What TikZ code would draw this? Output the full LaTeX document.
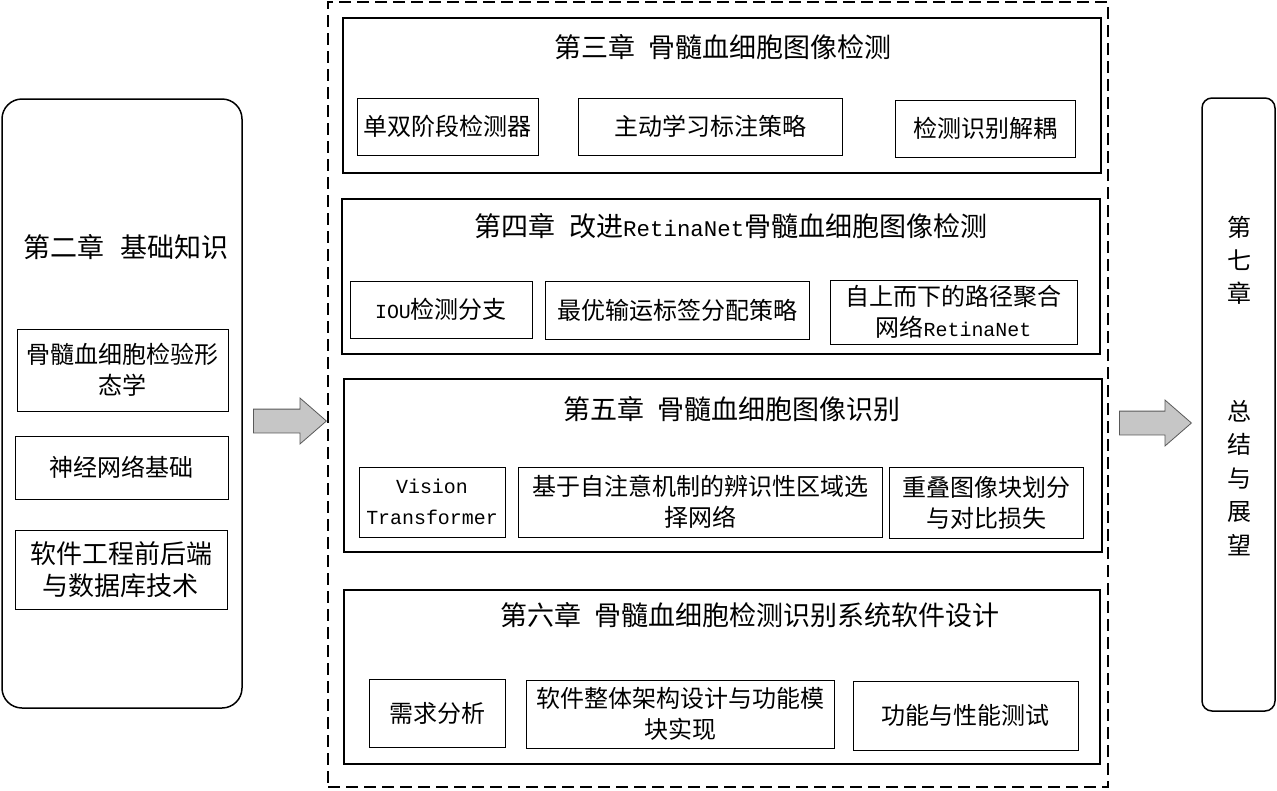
\documentclass[tikz,border=0pt]{standalone}
\usepackage{fontspec}
\setmainfont{Noto Sans CJK SC}
\newfontfamily\latinfont{Liberation Mono}[Scale=0.83]
\newcommand{\lat}[1]{{\latinfont #1}}
\usetikzlibrary{shapes.arrows}

\begin{document}
\begin{tikzpicture}[x=1pt,y=-1pt,
    sidebox/.style={draw,line width=1.5pt,inner sep=0pt},
    chapbox/.style={draw,line width=1.2pt,inner sep=0pt},
    subbox/.style={draw,line width=0.9pt,inner sep=2pt,align=center,
      font=\fontsize{24}{31}\selectfont},
    chaptitle/.style={font=\fontsize{27}{31}\selectfont},
    blockarrow/.style={single arrow,draw=gray!70!black,fill=gray!45,line width=0.8pt,
      inner xsep=0pt,inner ysep=11.5pt,single arrow head extend=11pt,
      single arrow tip angle=82,minimum width=0pt,anchor=tail}]
  \useasboundingbox (0,0) rectangle (1277,790);

  % chapter 2
  \node[sidebox,rounded corners=20pt,minimum width=240,minimum height=609] (ch2) at (122,403.5) {};
  \node[font=\fontsize{27}{30}\selectfont] (t2) at (126,247) {第二章\hspace{0.6em}基础知识};
  \node[subbox,minimum width=211,minimum height=82] (b21) at (122.5,370) {骨髓血细胞检验形\\态学};
  \node[subbox,minimum width=213,minimum height=63] (b22) at (121.5,467.5) {神经网络基础};
  \node[subbox,minimum width=212,minimum height=79,font=\fontsize{26}{32}\selectfont] (b23) at (121,569.5) {软件工程前后端\\与数据库技术};

  % dashed frame
  \node[draw,line width=2pt,dash pattern=on 12pt off 6pt,minimum width=780,minimum height=785] (frame) at (718,394.5) {};

  % chapter 3
  \node[chapbox,minimum width=758,minimum height=155] (ch3) at (722,95.5) {};
  \node[chaptitle] (t3) at (723,47) {第三章\hspace{0.5em}骨髓血细胞图像检测};
  \node[subbox,minimum width=181,minimum height=57] (b31) at (447.5,126.5) {单双阶段检测器};
  \node[subbox,minimum width=264,minimum height=57] (b32) at (710,126.5) {主动学习标注策略};
  \node[subbox,minimum width=180,minimum height=57] (b33) at (985,128.5) {检测识别解耦};

  % chapter 4
  \node[chapbox,minimum width=758,minimum height=155] (ch4) at (721,276.5) {};
  \node[chaptitle] (t4) at (731,226) {第四章\hspace{0.5em}改进\lat{RetinaNet}骨髓血细胞图像检测};
  \node[subbox,minimum width=182,minimum height=57] (b41) at (441,309.5) {\lat{IOU}检测分支};
  \node[subbox,minimum width=264,minimum height=58] (b42) at (677,310) {最优输运标签分配策略};
  \node[subbox,minimum width=247,minimum height=64] (b43) at (953.5,312) {自上而下的路径聚合\\网络\lat{RetinaNet}};

  % chapter 5
  \node[chapbox,minimum width=758,minimum height=173] (ch5) at (723,465.5) {};
  \node[chaptitle] (t5) at (732,409) {第五章\hspace{0.5em}骨髓血细胞图像识别};
  \node[subbox,minimum width=146,minimum height=70] (b51) at (432,502) {\lat{Vision}\\\lat{Transformer}};
  \node[subbox,minimum width=364,minimum height=70] (b52) at (700,502) {基于自注意机制的辨识性区域选\\择网络};
  \node[subbox,minimum width=194,minimum height=71] (b53) at (986,502.5) {重叠图像块划分\\与对比损失};

  % chapter 6
  \node[chapbox,minimum width=756,minimum height=174] (ch6) at (722,677) {};
  \node[chaptitle] (t6) at (750,615) {第六章\hspace{0.5em}骨髓血细胞检测识别系统软件设计};
  \node[subbox,minimum width=136,minimum height=68] (b61) at (437,713) {需求分析};
  \node[subbox,minimum width=308,minimum height=68] (b62) at (680,714) {软件整体架构设计与功能模\\块实现};
  \node[subbox,minimum width=225,minimum height=69] (b63) at (965.5,715.5) {功能与性能测试};

  % chapter 7
  \node[sidebox,rounded corners=10pt,minimum width=73,minimum height=613] (ch7) at (1238.5,404.5) {};
  \node[align=center,font=\fontsize{24}{33}\selectfont] (t7a) at (1239,260) {第\\七\\章};
  \node[align=center,font=\fontsize{24}{33.5}\selectfont] (t7b) at (1239,478) {总\\结\\与\\展\\望};

  % arrows
  \node[blockarrow,minimum height=73] (arrA) at (253,421) {};
  \node[blockarrow,minimum height=72] (arrB) at (1119,423) {};
\end{tikzpicture}
\end{document}
